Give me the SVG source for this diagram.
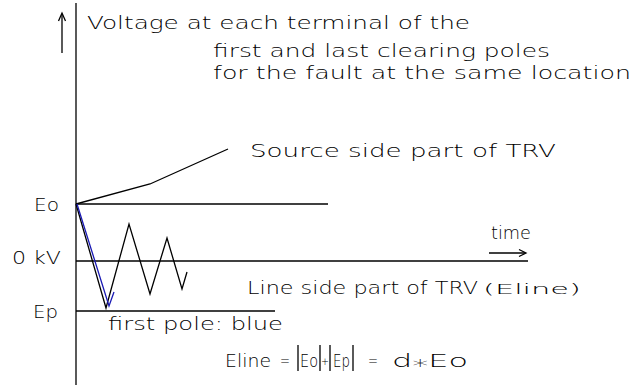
<svg xmlns="http://www.w3.org/2000/svg" width="636" height="385" viewBox="0 0 636 385">
<defs>
<style>
.t{font-family:"DejaVu Sans","Liberation Sans",sans-serif;font-size:17px;font-weight:300;fill:#000}
.s{font-family:"DejaVu Sans","Liberation Sans",sans-serif;font-size:14px;font-weight:300;fill:#000}
.ln{stroke:#000;stroke-width:1.3;fill:none}
.bl{stroke:#1a1ab4;stroke-width:1.3;fill:none}
</style>
</defs>
<rect width="636" height="385" fill="#fff"/>
<g id="axes">
<line class="ln" x1="76" y1="3" x2="76" y2="385"/>
<line class="ln" x1="62" y1="14" x2="62" y2="53"/>
<polyline class="ln" points="58.5,21 62,13 65.5,21"/>
<line class="ln" x1="76" y1="204" x2="328" y2="204"/>
<line class="ln" x1="76" y1="261" x2="528" y2="261"/>
<line class="ln" x1="76" y1="311" x2="275" y2="311"/>
</g>
<g id="title">
<text class="t" x="87" y="29" textLength="383" lengthAdjust="spacingAndGlyphs">Voltage at each terminal of the</text>
<text class="t" x="213" y="57" textLength="337" lengthAdjust="spacingAndGlyphs">first and last clearing poles</text>
<text class="t" x="213" y="79" textLength="418" lengthAdjust="spacingAndGlyphs">for the fault at the same location</text>
</g>
<g id="labels">
<text class="t" x="34" y="211" textLength="25" lengthAdjust="spacingAndGlyphs">Eo</text>
<text class="t" x="12" y="264" textLength="49" lengthAdjust="spacingAndGlyphs">0 kV</text>
<text class="t" x="33" y="318" textLength="25" lengthAdjust="spacingAndGlyphs">Ep</text>
</g>
<g id="connectors">
<polyline class="ln" points="76,204 150,184 228,149"/>
<polyline class="ln" points="76,204 106,308 129,224 150,294 167,238 182,289 187,272"/>
<polyline class="bl" points="77,204 109,306 114,292"/>
<line class="ln" x1="489" y1="253" x2="525" y2="253"/>
<polyline class="ln" points="519,249.5 526,253 519,256.5"/>
</g>
<g id="source">
<text class="t" x="250" y="157" textLength="306" lengthAdjust="spacingAndGlyphs">Source side part of TRV</text>
</g>
<g id="time">
<text class="t" x="491" y="239" textLength="40" lengthAdjust="spacingAndGlyphs">time</text>
</g>
<g id="line-side">
<text class="t" x="247" y="294" textLength="231" lengthAdjust="spacingAndGlyphs">Line side part of TRV</text>
<text class="s" x="483" y="294" textLength="98" lengthAdjust="spacingAndGlyphs">(Eline)</text>
</g>
<g id="first-pole">
<text class="t" x="108" y="330" textLength="175" lengthAdjust="spacingAndGlyphs">first pole: blue</text>
</g>
<g id="formula">
<text class="t" x="225" y="367" textLength="46" lengthAdjust="spacingAndGlyphs">Eline</text>
<text class="t" x="280" y="367" textLength="10" lengthAdjust="spacingAndGlyphs">=</text>
<line class="ln" x1="298" y1="345" x2="298" y2="371"/>
<line class="ln" x1="320" y1="345" x2="320" y2="371"/>
<line class="ln" x1="330" y1="345" x2="330" y2="371"/>
<line class="ln" x1="353" y1="345" x2="353" y2="371"/>
<text class="t" y="367"><tspan x="300" textLength="18" lengthAdjust="spacingAndGlyphs">Eo</tspan><tspan x="321" font-size="11" textLength="8" lengthAdjust="spacingAndGlyphs" dy="-2">+</tspan><tspan x="333" dy="2" textLength="17" lengthAdjust="spacingAndGlyphs">Ep</tspan></text>
<text class="t" x="368" y="367" textLength="10" lengthAdjust="spacingAndGlyphs">=</text>
<text class="t" x="392" y="367" textLength="76" lengthAdjust="spacingAndGlyphs">d<tspan dy="5">*</tspan><tspan dy="-5">Eo</tspan></text>
</g>
</svg>
